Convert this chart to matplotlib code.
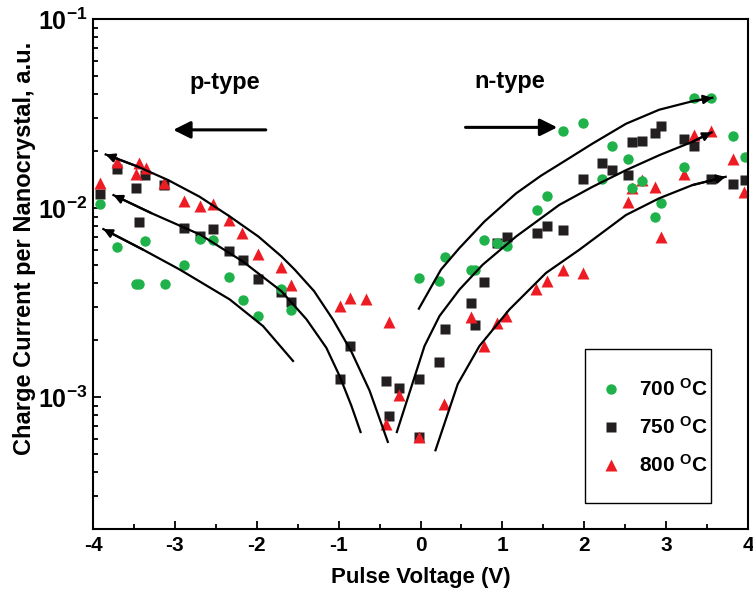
import matplotlib
matplotlib.use('Agg')
import matplotlib.pyplot as plt
from matplotlib.patches import Rectangle
from matplotlib.ticker import FixedLocator, LogLocator, NullFormatter, MultipleLocator

plt.rcParams['font.family'] = ['Liberation Sans', 'DejaVu Sans']
plt.rcParams['font.weight'] = 'bold'
plt.rcParams['mathtext.fontset'] = 'custom'
plt.rcParams['mathtext.rm'] = 'Liberation Sans:bold'
plt.rcParams['mathtext.bf'] = 'Liberation Sans:bold'
plt.rcParams['mathtext.it'] = 'Liberation Sans:bold'
plt.rcParams['axes.unicode_minus'] = False

# measured charge current per nanocrystal
v_700 = [-4.06, -3.91, -3.71, -3.36, -3.48, -3.44, -3.12, -2.89, -2.69, -2.53, -2.34, -2.17,
         -1.98, -1.70, -1.58, -0.02, 0.22, 0.30, 0.62, 0.66, 0.78, 0.94, 1.06, 1.42, 1.54,
         1.74, 1.98, 2.22, 2.34, 2.54, 2.58, 2.70, 2.86, 2.94, 3.22, 3.34, 3.545, 3.82, 3.96]
i_700 = [0.0082, 0.0105, 0.00625, 0.00665, 0.00398, 0.00398, 0.00398, 0.00501, 0.00687, 0.00674,
         0.0043, 0.00325, 0.00268, 0.00373, 0.00287, 0.00427, 0.00413, 0.0055, 0.00472, 0.00472,
         0.0068, 0.0065, 0.0063, 0.0098, 0.01156, 0.0254, 0.0281, 0.0143, 0.0213, 0.0181, 0.0127,
         0.0139, 0.00893, 0.01067, 0.0164, 0.0383, 0.0383, 0.024, 0.0186]

v_750 = [-3.91, -3.71, -3.36, -3.48, -3.44, -3.13, -2.89, -2.69, -2.53, -2.34, -2.17, -1.98,
         -1.70, -1.58, -0.866, -0.988, -0.427, -0.265, -0.386, -0.02, -0.02, 0.22, 0.30, 0.62,
         0.66, 0.78, 0.935, 1.06, 1.42, 1.54, 1.74, 1.98, 2.22, 2.34, 2.54, 2.58, 2.70, 2.86,
         2.94, 3.22, 3.34, 3.545, 3.82, 3.96]
i_750 = [0.0118, 0.016, 0.0149, 0.0128, 0.0084, 0.0133, 0.0078, 0.00713, 0.00773, 0.00589,
         0.00528, 0.00423, 0.00358, 0.00319, 0.00186, 0.00125, 0.00122, 0.00112, 0.00079,
         0.00125, 0.000614, 0.00153, 0.0023, 0.00316, 0.0024, 0.00405, 0.00656, 0.00698,
         0.00736, 0.00807, 0.0076, 0.01415, 0.0174, 0.0158, 0.0149, 0.0223, 0.0226, 0.0249,
         0.0273, 0.0233, 0.0212, 0.0142, 0.0134, 0.014]

v_800 = [-4.06, -3.91, -3.71, -3.44, -3.35, -3.48, -3.13, -2.89, -2.69, -2.53, -2.34, -2.18,
         -1.98, -1.70, -1.58, -0.988, -0.866, -0.66, -0.386, -0.265, -0.42, -0.02, 0.29, 0.618,
         0.78, 0.94, 1.05, 1.41, 1.54, 1.74, 1.98, 2.54, 2.58, 2.70, 2.86, 2.94, 3.22, 3.34,
         3.55, 3.82, 3.95]
i_800 = [0.0074, 0.0136, 0.0175, 0.0173, 0.0162, 0.0152, 0.0135, 0.0109, 0.0103, 0.0105,
         0.00865, 0.00736, 0.0057, 0.00485, 0.00392, 0.00303, 0.00334, 0.00331, 0.0025,
         0.00102, 0.00072, 0.00061, 0.00092, 0.00266, 0.00186, 0.00245, 0.00268, 0.00373,
         0.00409, 0.00468, 0.00453, 0.0108, 0.0127, 0.014, 0.0129, 0.00706, 0.0152, 0.0242,
         0.0255, 0.0181, 0.0122]

# guide curves (hand drawn trends), p-type branch listed left to right
p_top_v = [-3.845, -3.46, -3.08, -2.70, -2.34, -1.98, -1.70, -1.537, -1.30, -1.07, -0.845,
           -0.622, -0.399]
p_top_i = [0.01919, 0.0166, 0.01403, 0.01148, 0.00908, 0.00706, 0.00555, 0.00472, 0.00363,
           0.00257, 0.00174, 0.00108, 0.000578]
p_mid_v = [-3.75, -3.285, -2.687, -2.17, -1.70, -1.394, -1.15, -0.988, -0.845, -0.732]
p_mid_i = [0.0117, 0.00938, 0.00721, 0.00521, 0.00363, 0.00258, 0.00182, 0.00129, 0.0009,
           0.000652]
p_low_v = [-3.874, -3.387, -2.94, -2.33, -1.923, -1.557]
p_low_i = [0.00773, 0.00601, 0.00472, 0.00328, 0.00237, 0.00155]

# n-type branch listed left to right
n_top_v = [-0.02, 0.25, 0.476, 0.78, 1.167, 1.47, 1.777, 2.10, 2.51, 2.915, 3.32, 3.565]
n_top_i = [0.00293, 0.00472, 0.00614, 0.00847, 0.01194, 0.0148, 0.0179, 0.0219, 0.0279,
           0.0331, 0.0367, 0.0383]
n_mid_v = [-0.289, 0.049, 0.232, 0.476, 0.76, 1.167, 1.695, 2.10, 2.51, 2.915, 3.32, 3.556]
n_mid_i = [0.000652, 0.00186, 0.00268, 0.0037, 0.00501, 0.00706, 0.01038, 0.01294, 0.01585,
           0.01901, 0.02239, 0.02512]
n_low_v = [0.183, 0.455, 0.72, 1.085, 1.533, 1.94, 2.51, 2.915, 3.32, 3.727]
n_low_i = [0.000522, 0.00117, 0.00186, 0.0029, 0.00453, 0.00601, 0.00918, 0.01125, 0.01321,
           0.01462]

green = '#1fb14a'
black = '#231f20'
red = '#ed1c24'

fig = plt.figure(figsize=(7.53, 5.93), dpi=100)
ax = fig.add_axes([93 / 753, 1 - 529 / 593, 655 / 753, 510 / 593])
ax.set_yscale('log')

h750, = ax.plot(v_750, i_750, 's', color=black, ms=6.8, mec='none', label='750 $^{\\rm O}$C')
h800, = ax.plot(v_800, i_800, '^', color=red, ms=8.5, mec='none', label='800 $^{\\rm O}$C')
h700, = ax.plot(v_700, i_700, 'o', color=green, ms=7.5, mec='none', label='700 $^{\\rm O}$C')

arrow_kw = dict(arrowstyle='-|>', color='black', lw=1.6, mutation_scale=13, shrinkA=0, shrinkB=0)
for cv, ci in [(p_top_v, p_top_i), (p_mid_v, p_mid_i), (p_low_v, p_low_i)]:
    ax.plot(cv, ci, '-', color='black', lw=1.6)
    ax.annotate('', xy=(cv[0], ci[0]), xytext=(cv[1], ci[1]), arrowprops=arrow_kw)
for cv, ci in [(n_top_v, n_top_i), (n_mid_v, n_mid_i), (n_low_v, n_low_i)]:
    ax.plot(cv, ci, '-', color='black', lw=1.6)
    ax.annotate('', xy=(cv[-1], ci[-1]), xytext=(cv[-2], ci[-2]), arrowprops=arrow_kw)

# direction markers for carrier type
big_arrow = dict(arrowstyle='-|>', color='black', lw=2.2, mutation_scale=26, shrinkA=0, shrinkB=0)
ax.annotate('', xy=(-3.02, 0.0259), xytext=(-1.89, 0.0259), arrowprops=big_arrow)
ax.annotate('', xy=(1.67, 0.0267), xytext=(0.55, 0.0267), arrowprops=big_arrow)
ax.text(-2.39, 0.0462, 'p-type', ha='center', va='center', fontsize=17, fontweight='bold')
ax.text(1.085, 0.0466, 'n-type', ha='center', va='center', fontsize=17, fontweight='bold')

ax.set_xlim(-4, 4)
ax.set_ylim(2e-4, 1e-1)
ax.xaxis.set_major_locator(MultipleLocator(1))
ax.xaxis.set_minor_locator(MultipleLocator(0.5))
ax.set_xticks(range(-4, 5))
ax.set_xticklabels([str(t) for t in range(-4, 5)])
ax.yaxis.set_major_locator(FixedLocator([1e-3, 1e-2, 1e-1]))
ax.yaxis.set_minor_locator(LogLocator(base=10, subs=range(2, 10)))
ax.yaxis.set_minor_formatter(NullFormatter())
ax.set_yticklabels(['$\\mathbf{10^{-3}}$', '$\\mathbf{10^{-2}}$', '$\\mathbf{10^{-1}}$'])

ax.tick_params(which='both', direction='in', top=False, right=False, width=1.3)
ax.tick_params(which='major', length=6, pad=5)
ax.tick_params(which='minor', length=3.5)
ax.tick_params(axis='x', labelsize=15)
ax.tick_params(axis='y', labelsize=18, pad=4)
for sp in ax.spines.values():
    sp.set_linewidth(1.5)

ax.set_xlabel('Pulse Voltage (V)', fontsize=16, fontweight='bold')
ax.set_ylabel('Charge Current per Nanocrystal, a.u.', fontsize=17, fontweight='bold')
ax.xaxis.set_label_coords(0.5, -0.074)
ax.yaxis.set_label_coords(-0.087, 0.551)

# legend entries without frame; box drawn separately
leg = ax.legend(handles=[h700, h750, h800], loc='center left', bbox_to_anchor=(0.775, 0.1996),
                fontsize=15, frameon=False, borderpad=0, borderaxespad=0,
                labelspacing=0.77, handletextpad=0.85, handlelength=1.0)
ax.add_patch(Rectangle((0.751, 0.051), 0.192, 0.301, transform=ax.transAxes,
                       fill=False, edgecolor='black', lw=1.0, zorder=5))

fig.savefig('out.png', dpi=100)
